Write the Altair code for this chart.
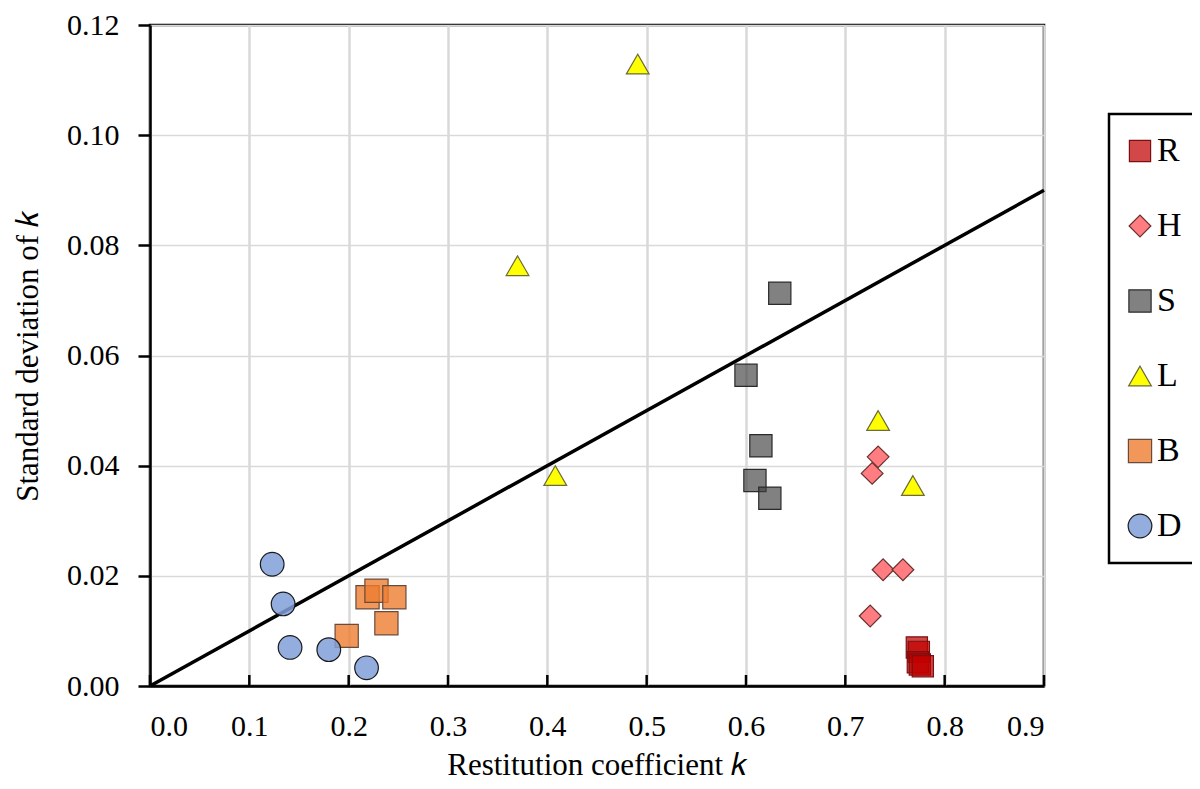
import altair as alt
import pandas as pd

# ---- data ----
R_x = [0.772, 0.774, 0.773, 0.775, 0.778]
R_y = [0.0070, 0.0062, 0.0043, 0.0039, 0.0036]

H_x = [0.733, 0.727, 0.738, 0.758, 0.725]
H_y = [0.0416, 0.0386, 0.0211, 0.0211, 0.0127]

S_x = [0.634, 0.600, 0.615, 0.609, 0.624]
S_y = [0.0713, 0.0564, 0.0436, 0.0373, 0.0341]

L_x = [0.491, 0.370, 0.408, 0.733, 0.768]
L_y = [0.1129, 0.0763, 0.0382, 0.0482, 0.0364]

B_x = [0.219, 0.228, 0.246, 0.238, 0.198]
B_y = [0.0161, 0.0173, 0.0161, 0.0114, 0.0091]

D_x = [0.123, 0.134, 0.141, 0.180, 0.218]
D_y = [0.0221, 0.0149, 0.0070, 0.0066, 0.0033]

series = ["R", "H", "S", "L", "B", "D"]
line_x = [0.0, 0.9]
line_y = [0.0, 0.09]
x_ticks = [0.0, 0.1, 0.2, 0.3, 0.4, 0.5, 0.6, 0.7, 0.8, 0.9]
y_ticks = [0.0, 0.02, 0.04, 0.06, 0.08, 0.10, 0.12]

# ---- styling ----
shapes = ["square", "diamond", "square", "triangle-up", "square", "circle"]
fills = ["rgba(192,0,0,0.72)", "rgba(255,124,128,1)", "rgba(64,64,64,0.66)",
         "rgba(255,255,0,1)", "rgba(237,125,49,0.8)", "rgba(127,159,216,0.85)"]
strokes = ["#7A1010", "#6A3030", "#2A2A2A", "#6B6B3B", "#6A4A3A", "#1A1A1A"]
sizes = [450, 560, 470, 490, 460, 400]

FONT = "Liberation Serif"

rows = []
for name, xs, ys in [("R", R_x, R_y), ("H", H_x, H_y), ("S", S_x, S_y),
                     ("L", L_x, L_y), ("B", B_x, B_y), ("D", D_x, D_y)]:
    for xv, yv in zip(xs, ys):
        rows.append({"k": xv, "sd": yv, "series": name})
pts = pd.DataFrame(rows)
line_df = pd.DataFrame({"k": line_x, "sd": line_y})
tick_df = pd.DataFrame({"k": x_ticks})

W, H = 894, 661

xscale = alt.Scale(domain=[0, 0.9], nice=False, zero=False)
yscale = alt.Scale(domain=[0, 0.12], nice=False, zero=False)

xaxis = alt.Axis(values=x_ticks, format=".1f", title="Restitution coefficient 𝑘",
                 ticks=False, labelPadding=25,
                 titleY=88, titleBaseline="alphabetic",
                 grid=True, gridColor="#D9D9D9", gridWidth=2.5,
                 domainColor="black", domainWidth=2.5)
yaxis = alt.Axis(values=y_ticks, format=".2f", title="Standard deviation of 𝑘",
                 tickSize=12, tickWidth=2.5, tickColor="black", labelPadding=19,
                 titleX=-113, titleBaseline="alphabetic",
                 grid=True, gridColor="#D9D9D9", gridWidth=1.5,
                 domainColor="black", domainWidth=2.5)

base_line = alt.Chart(line_df).mark_line(color="black", strokeWidth=3.5).encode(
    x=alt.X("k:Q", scale=xscale, axis=xaxis),
    y=alt.Y("sd:Q", scale=yscale, axis=yaxis),
)

ticks = alt.Chart(tick_df).mark_rule(color="black", strokeWidth=2.5).encode(
    x=alt.X("k:Q", scale=xscale),
    y=alt.value(H - 11),
    y2=alt.value(H),
)

leg = alt.Legend(title=None)
points = alt.Chart(pts).mark_point(filled=True, strokeWidth=1.2, opacity=1).encode(
    x=alt.X("k:Q", scale=xscale),
    y=alt.Y("sd:Q", scale=yscale),
    shape=alt.Shape("series:N", scale=alt.Scale(domain=series, range=shapes), legend=leg),
    fill=alt.Fill("series:N", scale=alt.Scale(domain=series, range=fills), legend=leg),
    stroke=alt.Stroke("series:N", scale=alt.Scale(domain=series, range=strokes), legend=leg),
    size=alt.Size("series:N", scale=alt.Scale(domain=series, range=sizes), legend=leg),
)

chart = alt.layer(base_line, ticks, points).properties(
    width=W, height=H,
    autosize=alt.AutoSizeParams(type="none"),
    padding={"left": 142, "top": 17, "right": 148, "bottom": 95},
).configure_view(
    stroke="black", strokeWidth=2.5
).configure_axis(
    labelFont=FONT, labelFontSize=30, labelColor="black",
    titleFont=FONT, titleFontSize=31, titleFontWeight="normal", titleColor="black",
).configure_legend(
    orient="none", legendX=959, legendY=89,
    strokeColor="black", strokeWidth=2.5, padding=20,
    rowPadding=41, labelFont=FONT, labelFontSize=34, labelColor="black",
    labelOffset=0, symbolOffset=-6, symbolStrokeWidth=1.2, fillColor="white",
)

chart.save("out.html", embed_options={"renderer": "svg", "actions": False})
